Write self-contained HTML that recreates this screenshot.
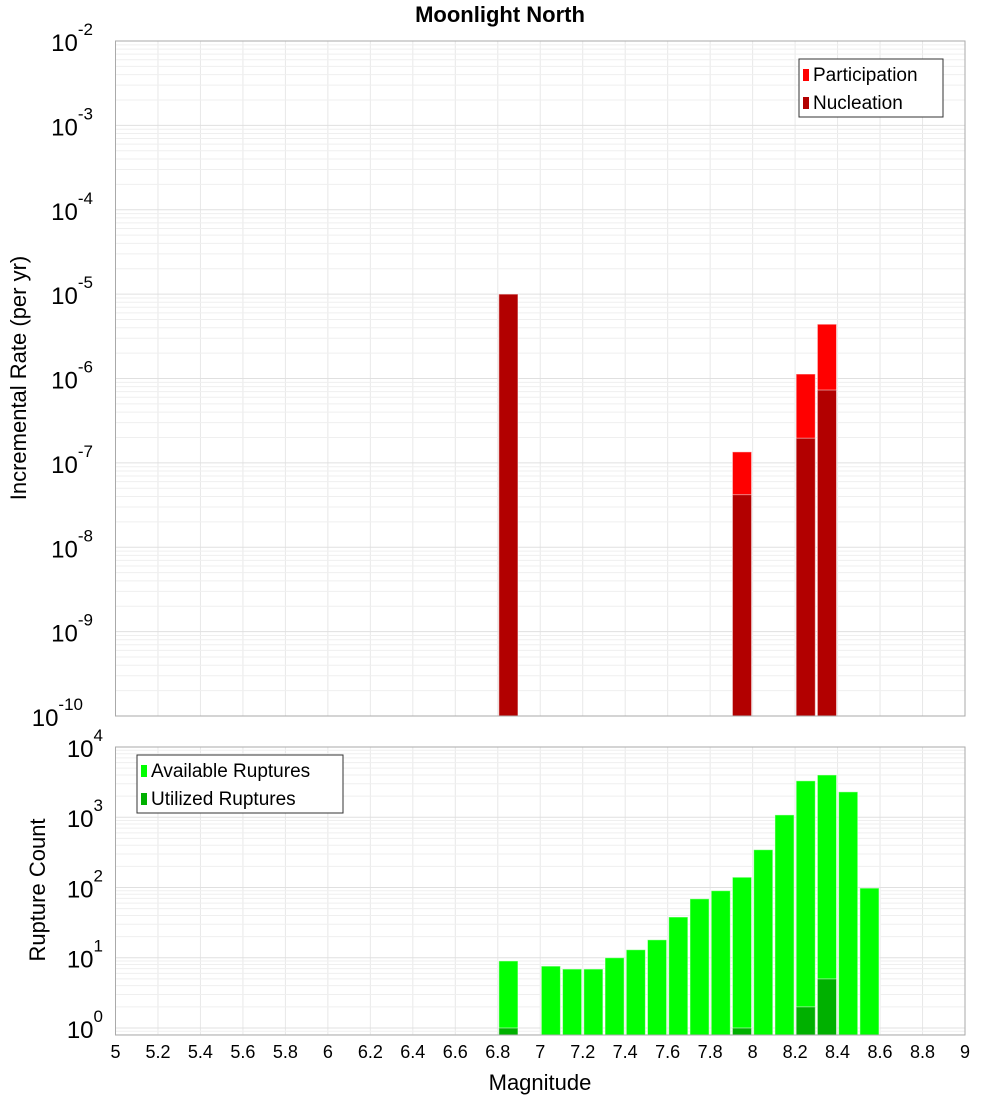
<!DOCTYPE html>
<html><head><meta charset="utf-8"><style>body{margin:0;background:#fff}svg{display:block;font-family:"Liberation Sans","DejaVu Sans",sans-serif}</style></head>
<body>
<svg id="c" width="1000" height="1100">
<text x="500" y="22" text-anchor="middle" font-size="22" font-weight="bold">Moonlight North</text>
<text transform="translate(26,378) rotate(-90)" text-anchor="middle" font-size="22">Incremental Rate (per yr)</text>
<text transform="translate(45,890) rotate(-90)" text-anchor="middle" font-size="22">Rupture Count</text>
<text x="540" y="1090" text-anchor="middle" font-size="22">Magnitude</text>
</svg>
<script>
const mags=[6.85,7.95,8.25,8.35];
const participation=[1.0e-5,1.35e-7,1.13e-6,4.4e-6];
const nucleation=[1.0e-5,4.2e-8,1.96e-7,7.3e-7];
const rupMags=[6.85,7.05,7.15,7.25,7.35,7.45,7.55,7.65,7.75,7.85,7.95,8.05,8.15,8.25,8.35,8.45,8.55];
const available=[9,7.6,6.9,6.9,10,13,18,38,69,90,140,345,1080,3300,4000,2300,98];
const utilMags=[6.85,7.95,8.25,8.35];
const utilized=[1,1,2,5];
const xTicks=[5,5.2,5.4,5.6,5.8,6,6.2,6.4,6.6,6.8,7,7.2,7.4,7.6,7.8,8,8.2,8.4,8.6,8.8,9];
const topExp=[-2,-3,-4,-5,-6,-7,-8,-9,-10];
const botExp=[4,3,2,1,0];
const NS='http://www.w3.org/2000/svg',svg=document.getElementById('c');
const X0=115.5,X1=965;
const x=m=>X0+(m-5)/4*(X1-X0);
const T0=41,T1=716,yT=v=>T1-(Math.log10(v)+10)/8*(T1-T0);
const B0=747,B1=1035,yB=v=>B1-(Math.log10(v)+0.1)/4.1*(B1-B0);
function el(t,a,p){const e=document.createElementNS(NS,t);for(const k in a)e.setAttribute(k,a[k]);(p||svg).appendChild(e);return e;}
function grid(y0,y1,yf,lo,hi,name){
  for(const m of xTicks){const l=el('line',{x1:x(m),x2:x(m),y1:y0,y2:y1,stroke:'#e8e8e8'});
  
  }
  for(let e=lo;e<=hi;e++)for(let k=1;k<10;k++){const v=k*Math.pow(10,e);const yy=yf(v);if(yy<y0-0.5||yy>y1+0.5)continue;
  const l=el('line',{x1:X0,x2:X1,y1:yy,y2:yy,stroke:k==1?'#e0e0e0':'#efefef'});
  
  }
}
grid(T0,T1,yT,-10,-2,'top');grid(B0,B1,yB,-1,4,'bottom');
const bw=(x(5.1)-x(5))*0.9;
function bar(m,v,f,yf,base,name){const yy=yf(v);const r=el('rect',{x:x(m)-bw/2,y:yy,width:bw,height:base-yy,fill:f,stroke:'rgba(255,255,255,0.5)','stroke-width':1});

}
mags.forEach((m,i)=>bar(m,participation[i],'#ff0000',yT,T1,'participation-bar'));
mags.forEach((m,i)=>bar(m,nucleation[i],'#b20000',yT,T1,'nucleation-bar'));
rupMags.forEach((m,i)=>bar(m,available[i],'#00ff00',yB,B1,'available-bar'));
utilMags.forEach((m,i)=>bar(m,utilized[i],'#00b000',yB,B1,'utilized-bar'));
for(const [a,b,n] of [[T0,T1,'top-plot-frame'],[B0,B1,'bottom-plot-frame']]){const r=el('rect',{x:X0,y:a,width:X1-X0,height:b-a,fill:'none',stroke:'#aaa'});

}
function ylab(yy,e,name){const t=el('text',{x:113,y:yy+10,'text-anchor':'end','font-size':24});


const s1=el('tspan',{},t);s1.textContent='10';const s2=el('tspan',{dy:-16,'font-size':17},t);s2.textContent=String(e);
t.setAttribute('x',113-(String(e).length*10));t.setAttribute('text-anchor','end');}
topExp.forEach(e=>ylab(yT(Math.pow(10,e)),e,'top-y-tick-label'));
botExp.forEach(e=>ylab(yB(Math.pow(10,e)),e,'bottom-y-tick-label'));
xTicks.forEach(m=>{const t=el('text',{x:x(m),y:1058,'text-anchor':'middle','font-size':18});


t.textContent=String(m);});
function legend(lx,ly,w,items,name){const g=el('g',{});


el('rect',{x:lx,y:ly,width:w,height:58,fill:'#fff',stroke:'#333'},g);
items.forEach((it,i)=>{el('rect',{x:lx+4,y:ly+10+i*28,width:6,height:12,fill:it[1]},g);
const t=el('text',{x:lx+14,y:ly+22+i*28,'font-size':19},g);


t.textContent=it[0];});}
legend(799,59,144,[['Participation','#ff0000'],['Nucleation','#b20000']],'top-legend');
legend(137,755,206,[['Available Ruptures','#00ff00'],['Utilized Ruptures','#00b000']],'bottom-legend');
</script>
</body></html>
